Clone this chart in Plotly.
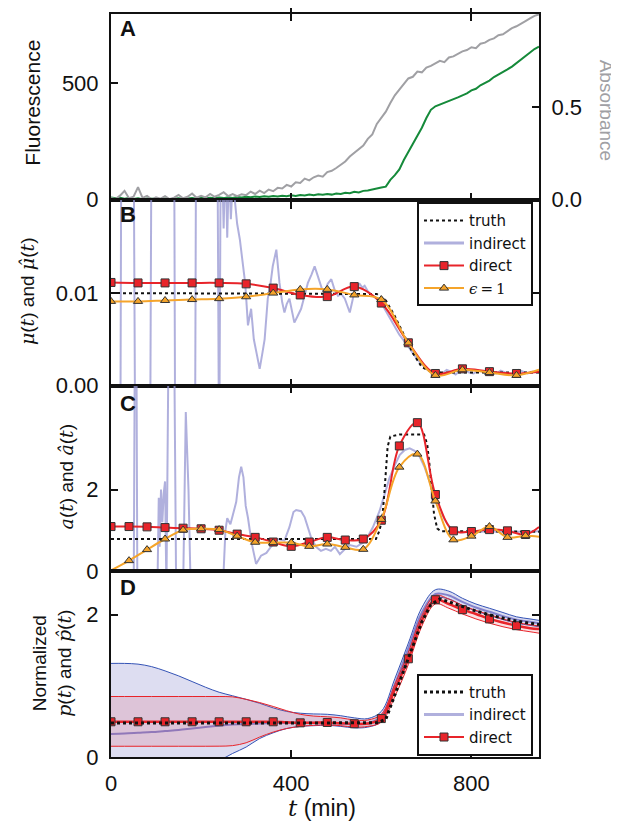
import plotly.graph_objects as go

# ---------------- data ----------------
# Panel A: raw measurements (every 10 min)
T_A = list(range(0, 951, 10))
ABSORBANCE = [0.010, 0.004, 0.022, 0.048, 0.008, 0.016, 0.068, 0.010, 0.021, 0.002,
              0.013, 0.006, 0.019, 0.004, 0.011, 0.026, 0.008, 0.016, 0.034, 0.011,
              0.021, 0.013, 0.031, 0.016, 0.026, 0.041, 0.020, 0.031, 0.019, 0.030,
              0.025, 0.044, 0.031, 0.049, 0.036, 0.055, 0.046, 0.064, 0.061, 0.080,
              0.071, 0.094, 0.090, 0.114, 0.104, 0.121, 0.130, 0.124, 0.149, 0.156,
              0.171, 0.188, 0.206, 0.233, 0.251, 0.274, 0.292, 0.328, 0.352, 0.408,
              0.438, 0.474, 0.521, 0.562, 0.593, 0.622, 0.653, 0.662, 0.690, 0.686,
              0.712, 0.721, 0.733, 0.748, 0.741, 0.766, 0.772, 0.786, 0.799, 0.806,
              0.821, 0.816, 0.840, 0.846, 0.861, 0.869, 0.886, 0.891, 0.909, 0.924,
              0.934, 0.950, 0.962, 0.976, 0.990, 0.998]
FLUORESCENCE = [10, 6, 8, 4, 7, 3, 6, 2, 5, 4,
                6, 3, 5, 2, 4, 6, 3, 5, 7, 4,
                8, 5, 9, 6, 10, 7, 11, 8, 12, 10,
                13, 11, 14, 12, 15, 13, 16, 14, 17, 15,
                19, 16, 20, 18, 22, 19, 23, 21, 25, 22,
                27, 25, 30, 28, 34, 31, 38, 40, 45, 48,
                52, 56, 85, 105, 130, 170, 205, 240, 270, 308,
                350, 385, 400, 407, 415, 422, 430, 438, 447, 455,
                468, 475, 490, 500, 510, 525, 535, 545, 558, 570,
                585, 600, 615, 630, 645, 655]

# Panel B: growth rate mu(t)
B_T = [0, 60, 120, 180, 240, 300, 360, 420, 480, 540, 600, 660, 720, 780, 840, 900, 950]
B_DIRECT = [0.01115, 0.0111, 0.0111, 0.0111, 0.0111, 0.0110, 0.01054, 0.00980, 0.00962,
            0.01070, 0.00892, 0.00462, 0.0013, 0.0018, 0.0015, 0.0013, 0.0015]
B_EPS = [0.0091, 0.0091, 0.0092, 0.0093, 0.0094, 0.0096, 0.0100, 0.0104, 0.0104,
         0.0098, 0.0093, 0.0046, 0.0011, 0.0017, 0.0014, 0.0011, 0.0017]
B_TRUTH_T = [0, 590, 610, 630, 650, 670, 690, 710, 730, 950]
B_TRUTH = [0.0100, 0.0099, 0.0092, 0.0075, 0.0055, 0.0035, 0.0020, 0.0015, 0.0014, 0.0014]
B_IND_T = [0, 20, 23, 26, 50, 56, 85, 90, 96, 140,
           144, 185, 189, 236, 240, 244, 250, 254, 258, 262,
           266, 270, 275, 280, 286, 293, 298, 304, 311, 317,
           322, 330, 336, 341, 348, 354, 359, 367, 374, 380,
           385, 390, 396, 402, 407, 414, 422, 430, 437, 445,
           452, 458, 463, 468, 474, 481, 489, 496, 504, 511,
           519, 525, 530, 536, 541, 547, 552, 558, 563, 570,
           578, 586, 593, 605, 620, 640, 660, 680, 700, 715,
           725, 735, 745, 755, 765, 775, 785, 795, 805, 815,
           825, 835, 845, 855, 865, 875, 885, 895, 905, 915,
           925, 935, 950]
B_IND = [-0.02, -0.02, 0.03, 0.03, 0.03, -0.03, -0.03, 0.03, 0.03, 0.03,
         -0.03, -0.03, 0.03, 0.03, -0.01, 0.03, 0.017, 0.025, 0.016, 0.024,
         0.018, 0.022, 0.020, 0.0175, 0.0158, 0.0129, 0.011, 0.0065, 0.0083, 0.005,
         0.0036, 0.0018, 0.0035, 0.005, 0.0094, 0.011, 0.0129, 0.0147, 0.0111, 0.009,
         0.0079, 0.0088, 0.0094, 0.0078, 0.0068, 0.0075, 0.0083, 0.0098, 0.0111, 0.012,
         0.0129, 0.012, 0.0111, 0.0105, 0.0101, 0.011, 0.0115, 0.0104, 0.0097, 0.0099,
         0.0094, 0.0085, 0.0079, 0.0092, 0.0104, 0.0108, 0.0110, 0.0106, 0.0108, 0.0102,
         0.0098, 0.0096, 0.0093, 0.0085, 0.0072, 0.0055, 0.0042, 0.0028, 0.0018, 0.0013,
         0.0016, 0.0013, 0.0017, 0.0015, 0.0012, 0.0016, 0.0017, 0.0014, 0.0013, 0.0016,
         0.0015, 0.0012, 0.0014, 0.0013, 0.0016, 0.0014, 0.0012, 0.0013, 0.0017, 0.0015,
         0.0013, 0.0015, 0.0014]

# Panel C: a(t)
C_T = [0, 40, 80, 120, 160, 200, 240, 280, 320, 360, 400, 440, 480, 520, 560,
       600, 640, 680, 720, 760, 800, 840, 880, 920, 950]
C_DIRECT = [1.095, 1.095, 1.087, 1.07, 1.055, 1.04, 1.005, 0.91, 0.83, 0.716, 0.61, 0.716,
            0.83, 0.765, 0.79, 1.25, 3.07, 3.64, 1.88, 0.99, 0.974, 1.02, 0.99, 0.90, 1.085]
C_EPS = [0.02, 0.26, 0.53, 0.79, 1.01, 1.04, 1.02, 0.86, 0.71, 0.70, 0.70, 0.61,
         0.667, 0.586, 0.537, 1.27, 2.55, 2.87, 1.72, 0.77, 0.86, 1.095, 0.83, 0.87, 0.845]
C_TRUTH_T = [0, 588, 596, 602, 606, 610, 614, 620, 640, 695, 702, 707, 712, 717, 724, 732, 950]
C_TRUTH = [0.79, 0.79, 1.0, 1.3, 1.8, 2.5, 3.05, 3.3, 3.35, 3.35, 3.1, 2.6, 2.0, 1.4, 1.05, 0.98, 0.97]
C_IND_T = [0, 20, 40, 50, 53, 56, 59, 70, 90, 103,
           106, 108, 111, 114, 117, 120, 123, 128, 134, 140,
           145, 155, 160, 163, 166, 172, 177, 190, 210, 230,
           245, 250, 254, 258, 265, 271, 278, 284, 289, 294,
           299, 304, 312, 322, 333, 345, 355, 370, 385, 396,
           405, 411, 422, 430, 437, 444, 455, 466, 477, 488,
           497, 508, 520, 530, 545, 559, 570, 581, 596, 607,
           618, 630, 641, 652, 663, 674, 685, 696, 707, 718,
           729, 740, 752, 765, 781, 800, 820, 840, 860, 880,
           900, 920, 950]
C_IND = [-2, -3, -2.5, -1.5, 6, 7, -2, -3, -2.5, -0.5,
         1.8, 0.6, 2.0, 1.2, 1.9, 2.2, -0.5, 6, 7, 6,
         -1, -1.5, -0.5, 2.5, 3.9, 2.0, -0.5, -1.5, -1.2, -0.8,
         -0.4, 0.0, 1.0, 1.3, 1.15, 1.4, 1.7, 2.3, 2.56, 2.3,
         1.6, 1.31, 0.7, 0.18, 0.38, 0.45, 0.6, 0.79, 0.75, 1.08,
         1.45, 1.5, 1.47, 1.32, 1.05, 0.83, 0.6, 0.5, 0.55, 0.5,
         0.6, 0.42, 0.55, 0.64, 0.6, 0.70, 0.85, 1.07, 1.47, 1.85,
         2.28, 2.6, 2.85, 2.97, 3.01, 2.95, 2.81, 2.55, 2.2, 1.85,
         1.56, 1.28, 1.07, 0.98, 0.95, 0.98, 0.97, 0.98, 0.96, 0.98,
         0.97, 0.97, 0.98]

# Panel D: normalized p(t)
D_T = [0, 30, 60, 90, 120, 150, 180, 210, 240, 270, 300, 330, 360, 390, 420, 450, 480,
       510, 540, 570, 600, 630, 660, 690, 720, 750, 780, 810, 840, 870, 900, 930, 950]
D_DIRECT = [0.495, 0.495, 0.495, 0.495, 0.495, 0.495, 0.495, 0.495, 0.495, 0.495, 0.495,
            0.495, 0.495, 0.487, 0.48, 0.482, 0.485, 0.475, 0.467, 0.47, 0.54, 0.95, 1.38,
            1.92, 2.21, 2.15, 2.07, 2.01, 1.94, 1.89, 1.845, 1.81, 1.80]
D_DIRECT_HI = [0.85, 0.85, 0.85, 0.85, 0.85, 0.85, 0.85, 0.85, 0.85, 0.845, 0.81, 0.765,
               0.71, 0.65, 0.60, 0.575, 0.565, 0.55, 0.52, 0.52, 0.60, 1.02, 1.47, 1.99,
               2.27, 2.22, 2.13, 2.06, 2.00, 1.94, 1.89, 1.86, 1.84]
D_DIRECT_LO = [0.151, 0.151, 0.151, 0.151, 0.151, 0.151, 0.151, 0.151, 0.152, 0.16, 0.20,
               0.28, 0.35, 0.40, 0.43, 0.445, 0.45, 0.44, 0.42, 0.43, 0.49, 0.85, 1.30,
               1.84, 2.15, 2.09, 2.01, 1.94, 1.88, 1.83, 1.79, 1.76, 1.74]
D_IND = [0.324, 0.33, 0.34, 0.35, 0.365, 0.38, 0.40, 0.42, 0.44, 0.455, 0.465, 0.47,
         0.477, 0.48, 0.48, 0.48, 0.48, 0.47, 0.465, 0.475, 0.57, 1.02, 1.53, 2.03,
         2.29, 2.27, 2.18, 2.10, 2.04, 1.98, 1.93, 1.90, 1.88]
D_IND_HI = [1.315, 1.315, 1.305, 1.27, 1.21, 1.14, 1.06, 0.98, 0.91, 0.86, 0.81, 0.755,
            0.69, 0.64, 0.615, 0.605, 0.60, 0.58, 0.55, 0.54, 0.64, 1.10, 1.60, 2.10,
            2.35, 2.33, 2.23, 2.15, 2.09, 2.03, 1.97, 1.94, 1.92]
D_IND_LO = [-0.45, -0.45, -0.43, -0.40, -0.35, -0.28, -0.20, -0.12, -0.05, 0.05, 0.14,
            0.26, 0.34, 0.40, 0.43, 0.44, 0.445, 0.43, 0.41, 0.42, 0.50, 0.95, 1.47,
            1.97, 2.23, 2.22, 2.13, 2.05, 1.99, 1.93, 1.88, 1.85, 1.83]
D_TRUTH_T = [0, 570, 590, 610, 630, 650, 670, 690, 710, 730, 760, 800, 850, 900, 950]
D_TRUTH = [0.477, 0.477, 0.48, 0.53, 0.88, 1.22, 1.58, 1.90, 2.14, 2.22, 2.16, 2.07, 1.98, 1.91, 1.86]

X_TICKS = [0, 400, 800]
X_TICK_TEXT = ["0", "400", "800"]

# ---------------- geometry (page pixels; the page body has an 8px margin) ----------------
OFF = 8
W, H = 619 - OFF, 828 - OFF
ML = 111 - OFF
MR = 80
MT = 12 - OFF
MB = H - (757.5 - OFF)
PW, PH = W - ML - MR, H - MT - MB

def px_x(px):
    return (px - OFF - ML) / PW

def px_y(py):
    return (H - MB - (py - OFF)) / PH

INK = "#111111"
GRAY = "#a0a0a4"
GREEN = "#158a3a"
LAV = "rgba(150,150,210,0.75)"
RED = "#e8242a"
ORANGE = "#f5a42a"
BLUE = "#3453b5"
TICKFONT = dict(family="Liberation Sans, Arial, sans-serif", size=22, color=INK)
SERIF = "DejaVu Serif"

fig = go.Figure()

# ---- Panel A ----
fig.add_trace(go.Scatter(x=T_A, y=FLUORESCENCE, xaxis="x", yaxis="y", mode="lines",
                         line=dict(color=GREEN, width=2), showlegend=False))
fig.add_trace(go.Scatter(x=T_A, y=ABSORBANCE, xaxis="x", yaxis="y5", mode="lines",
                         line=dict(color=GRAY, width=2), showlegend=False))

sq = dict(symbol="square", size=8, color=RED, line=dict(color="#333", width=1))
tri = dict(symbol="triangle-up", size=8, color=ORANGE, line=dict(color="#333", width=1))

# ---- Panel B ----
fig.add_trace(go.Scatter(x=B_IND_T, y=B_IND, xaxis="x2", yaxis="y2", mode="lines",
                         line=dict(color=LAV, width=2), showlegend=False))
fig.add_trace(go.Scatter(x=B_TRUTH_T, y=B_TRUTH, xaxis="x2", yaxis="y2", mode="lines",
                         line=dict(color=INK, width=2, dash="dot"), showlegend=False))
fig.add_trace(go.Scatter(x=B_T, y=B_DIRECT, xaxis="x2", yaxis="y2", mode="lines",
                         line=dict(color=RED, width=2, shape="spline"), showlegend=False))
fig.add_trace(go.Scatter(x=B_T[:-1], y=B_DIRECT[:-1], xaxis="x2", yaxis="y2", mode="markers",
                         marker=sq, showlegend=False))
fig.add_trace(go.Scatter(x=B_T, y=B_EPS, xaxis="x2", yaxis="y2", mode="lines",
                         line=dict(color=ORANGE, width=2, shape="spline"), showlegend=False))
fig.add_trace(go.Scatter(x=B_T[:-1], y=B_EPS[:-1], xaxis="x2", yaxis="y2", mode="markers",
                         marker=tri, showlegend=False))
# legend entries for B
fig.add_trace(go.Scatter(x=[None], y=[None], xaxis="x2", yaxis="y2", mode="lines", name="truth",
                         line=dict(color=INK, width=2, dash="dot"), legend="legend"))
fig.add_trace(go.Scatter(x=[None], y=[None], xaxis="x2", yaxis="y2", mode="lines", name="indirect",
                         line=dict(color=LAV, width=3), legend="legend"))
fig.add_trace(go.Scatter(x=[None], y=[None], xaxis="x2", yaxis="y2", mode="lines+markers",
                         name="direct", line=dict(color=RED, width=2), marker=sq, legend="legend"))
fig.add_trace(go.Scatter(x=[None], y=[None], xaxis="x2", yaxis="y2", mode="lines+markers",
                         name="<span style=\"font-family:DejaVu Serif\"><i>ϵ</i>\u2009=\u20091</span>",
                         line=dict(color=ORANGE, width=2), marker=tri, legend="legend"))

# ---- Panel C ----
fig.add_trace(go.Scatter(x=C_IND_T, y=C_IND, xaxis="x3", yaxis="y3", mode="lines",
                         line=dict(color=LAV, width=2), showlegend=False))
fig.add_trace(go.Scatter(x=C_TRUTH_T, y=C_TRUTH, xaxis="x3", yaxis="y3", mode="lines",
                         line=dict(color=INK, width=2, dash="dot"), showlegend=False))
fig.add_trace(go.Scatter(x=C_T, y=C_DIRECT, xaxis="x3", yaxis="y3", mode="lines",
                         line=dict(color=RED, width=2, shape="spline"), showlegend=False))
fig.add_trace(go.Scatter(x=C_T[:-1], y=C_DIRECT[:-1], xaxis="x3", yaxis="y3", mode="markers",
                         marker=sq, showlegend=False))
fig.add_trace(go.Scatter(x=C_T, y=C_EPS, xaxis="x3", yaxis="y3", mode="lines",
                         line=dict(color=ORANGE, width=2, shape="spline"), showlegend=False))
fig.add_trace(go.Scatter(x=C_T[1:-1], y=C_EPS[1:-1], xaxis="x3", yaxis="y3", mode="markers",
                         marker=tri, showlegend=False))

# ---- Panel D ----
fig.add_trace(go.Scatter(x=D_T, y=D_IND_LO, xaxis="x4", yaxis="y4", mode="lines",
                         line=dict(color=BLUE, width=1, shape="spline"), showlegend=False))
fig.add_trace(go.Scatter(x=D_T, y=D_IND_HI, xaxis="x4", yaxis="y4", mode="lines", fill="tonexty",
                         fillcolor="rgba(120,120,200,0.25)",
                         line=dict(color=BLUE, width=1, shape="spline"), showlegend=False))
fig.add_trace(go.Scatter(x=D_T, y=D_IND, xaxis="x4", yaxis="y4", mode="lines",
                         line=dict(color="rgba(120,120,200,0.9)", width=2, shape="spline"),
                         showlegend=False))
fig.add_trace(go.Scatter(x=D_T, y=D_DIRECT_LO, xaxis="x4", yaxis="y4", mode="lines",
                         line=dict(color=RED, width=1, shape="spline"), showlegend=False))
fig.add_trace(go.Scatter(x=D_T, y=D_DIRECT_HI, xaxis="x4", yaxis="y4", mode="lines", fill="tonexty",
                         fillcolor="rgba(225,70,90,0.16)",
                         line=dict(color=RED, width=1, shape="spline"), showlegend=False))
fig.add_trace(go.Scatter(x=D_T, y=D_DIRECT, xaxis="x4", yaxis="y4", mode="lines",
                         line=dict(color=RED, width=2.5, shape="spline"), showlegend=False))
fig.add_trace(go.Scatter(x=D_T[0:-1:2], y=D_DIRECT[0:-1:2], xaxis="x4", yaxis="y4", mode="markers",
                         marker=sq, showlegend=False))
fig.add_trace(go.Scatter(x=D_TRUTH_T, y=D_TRUTH, xaxis="x4", yaxis="y4", mode="lines",
                         line=dict(color=INK, width=3, dash="dot"), showlegend=False))
fig.add_trace(go.Scatter(x=[None], y=[None], xaxis="x4", yaxis="y4", mode="lines", name="truth",
                         line=dict(color=INK, width=3, dash="dot"), legend="legend2"))
fig.add_trace(go.Scatter(x=[None], y=[None], xaxis="x4", yaxis="y4", mode="lines", name="indirect",
                         line=dict(color=LAV, width=3), legend="legend2"))
fig.add_trace(go.Scatter(x=[None], y=[None], xaxis="x4", yaxis="y4", mode="lines+markers",
                         name="direct", line=dict(color=RED, width=2), marker=sq, legend="legend2"))

# ---------------- axes ----------------
base = dict(showline=True, linecolor=INK, linewidth=2, ticks="inside", ticklen=7, tickwidth=1.5,
            tickcolor=INK, showgrid=False, zeroline=False, tickfont=TICKFONT, ticklabelstandoff=6)

domains = {"": [0.75, 1.0], "2": [0.5, 0.75], "3": [0.25, 0.5], "4": [0.0, 0.25]}
layout = {}
for k in ["", "2", "3", "4"]:
    layout["xaxis" + k] = dict(base, domain=[0, 1], anchor="y" + k, range=[0, 950],
                               tickvals=X_TICKS, ticktext=X_TICK_TEXT, mirror="allticks",
                               showticklabels=(k == "4"))
layout["yaxis"] = dict(base, domain=domains[""], anchor="x", range=[0, 795], tickvals=[0, 500],
                       mirror=True)
layout["yaxis5"] = dict(base, overlaying="y", side="right", anchor="x", range=[0, 1.0],
                        tickvals=[0, 0.5], ticktext=["0.0", "0.5"])
layout["yaxis2"] = dict(base, domain=domains["2"], anchor="x2", range=[0, 0.0201],
                        tickvals=[0, 0.01], ticktext=["0.00", "0.01"], mirror="allticks")
layout["yaxis3"] = dict(base, domain=domains["3"], anchor="x3", range=[0, 4.55],
                        tickvals=[0, 2], mirror="allticks")
layout["yaxis4"] = dict(base, domain=domains["4"], anchor="x4", range=[0, 2.61],
                        tickvals=[0, 2], mirror="allticks")

legend_style = dict(bgcolor="white", bordercolor=INK, borderwidth=2, traceorder="normal",
                    font=dict(family="DejaVu Sans", size=15, color=INK),
                    xanchor="left", yanchor="top", tracegroupgap=0, itemwidth=40)
layout["legend"] = dict(legend_style, x=px_x(417), y=px_y(201))
layout["legend2"] = dict(legend_style, x=px_x(417), y=px_y(674))

# ---------------- annotations ----------------
ann = []

def note(text, x, y, size=19, color=INK, angle=0, bold=False, family="Liberation Sans, Arial, sans-serif"):
    ann.append(dict(text=("<b>%s</b>" % text) if bold else text, x=px_x(x), y=px_y(y),
                    xref="paper", yref="paper", xanchor="center", yanchor="middle",
                    textangle=angle, showarrow=False,
                    font=dict(family=family, size=size, color=color)))

for letter, py in [("A", 27), ("B", 213), ("C", 403), ("D", 587)]:
    note(letter, 128, py, size=22, bold=True)

def mi(s):
    return "<span style=\"font-family:%s\"><i>%s</i></span>" % (SERIF, s)

note("Fluorescence", 33, 101, size=21, angle=-90)
note("Absorbance", 606, 108, size=19, color=GRAY, angle=90)
note(mi("μ") + "(" + mi("t") + ") and " + mi("μ̂") + "(" + mi("t") + ")", 27, 290, angle=-90)
note(mi("a") + "(" + mi("t") + ") and " + mi("â") + "(" + mi("t") + ")", 66, 476, angle=-90)
note("Normalized<br>" + mi("p") + "(" + mi("t") + ") and " + mi("p̂") + "(" + mi("t") + ")",
     52, 664, angle=-90)
note(mi("t") + " (min)", 322, 809, size=23)

fig.update_layout(width=W, height=H, margin=dict(l=ML, r=MR, t=MT, b=MB),
                  paper_bgcolor="white", plot_bgcolor="white", annotations=ann, **layout)

fig.write_html("out.html")
